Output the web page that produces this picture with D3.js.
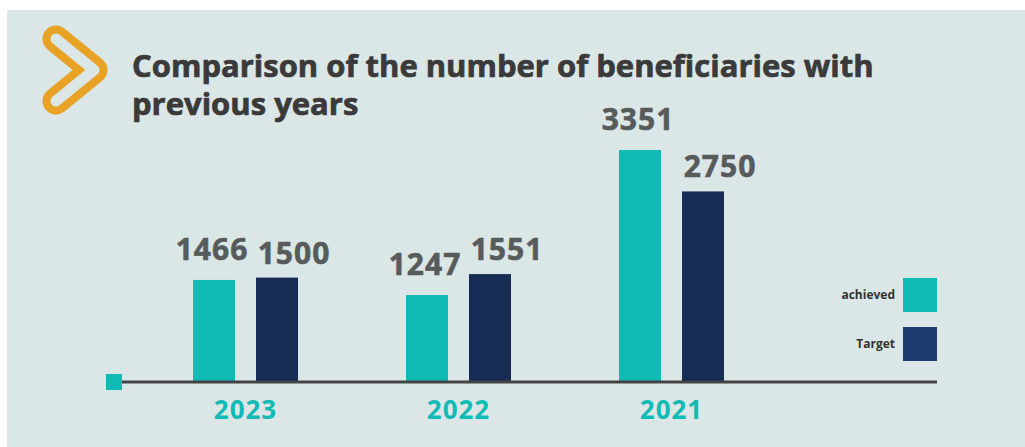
<!DOCTYPE html>
<html>
<head>
<meta charset="utf-8">
<script src="https://cdn.jsdelivr.net/npm/d3@7"></script>
<style>
  html, body { margin: 0; padding: 0; background: #fff; }
  svg { display: block; font-family: "Open Sans", "DejaVu Sans", sans-serif; }
</style>
</head>
<body>
<div id="chart"></div>
<script>
// data
const years = ["2023", "2022", "2021"];
const seriesNames = ["achieved", "Target"];
const achieved = [1466, 1247, 3351];
const target = [1500, 1551, 2750];
const titleLines = ["Comparison of the number of beneficiaries with", "previous years"];

const width = 1025, height = 447;
const baseline = 381;

const colors = { achieved: "#10bbb5", Target: "#172c55" };
const legendColors = { achieved: "#10bbb5", Target: "#1e3a6e" };

const svg = d3.select("#chart").append("svg")
  .attr("width", width)
  .attr("height", height);

// panel
svg.append("rect")
  .attr("x", 7).attr("y", 10)
  .attr("width", width - 7).attr("height", height - 10)
  .attr("fill", "#dbe6e6");

// chevron icon: thick rounded stroke, hollowed with the panel colour
const chev = "M56,39 L94,70 L56,101";
svg.append("path").attr("d", chev)
  .attr("fill", "none").attr("stroke", "#e8a326")
  .attr("stroke-width", 27).attr("stroke-linecap", "round").attr("stroke-linejoin", "round");
svg.append("path").attr("d", chev)
  .attr("fill", "none").attr("stroke", "#dbe6e6")
  .attr("stroke-width", 11).attr("stroke-linecap", "round").attr("stroke-linejoin", "round");

// title (a thin stroke to get closer to the heavy original face)
svg.append("g").selectAll("text")
  .data(titleLines)
  .enter().append("text")
  .attr("x", 132)
  .attr("y", (d, i) => 77 + i * 38)
  .attr("fill", "#3a3a3a")
  .attr("stroke", "#3a3a3a")
  .attr("stroke-width", 0.7)
  .attr("font-size", 31)
  .attr("font-weight", 700)
  .text(d => d);

// scales
const x = d3.scaleBand().domain(years).range([139, 778]);
const xs = d3.scaleBand().domain(seriesNames).range([0, 105]).paddingInner(1 / 3);
const y = d3.scaleLinear().domain([0, d3.max(achieved.concat(target))]).range([baseline, 150]);

const rows = years.map((yr, i) => ({ year: yr, values: [
  { key: "achieved", value: achieved[i] },
  { key: "Target", value: target[i] }
]}));

const labelDx = { achieved: -2, Target: 17 };
const labelGap = { achieved: 20, Target: 14 };

const group = svg.selectAll(".year")
  .data(rows)
  .enter().append("g")
  .attr("class", "year")
  .attr("transform", d => "translate(" + (x(d.year) + x.bandwidth() / 2 - 52.5) + ",0)");

group.selectAll("rect")
  .data(d => d.values)
  .enter().append("rect")
  .attr("x", d => xs(d.key))
  .attr("y", d => y(d.value))
  .attr("width", xs.bandwidth())
  .attr("height", d => baseline - y(d.value))
  .attr("fill", d => colors[d.key]);

group.selectAll(".val")
  .data(d => d.values)
  .enter().append("text")
  .attr("class", "val")
  .attr("x", d => xs(d.key) + xs.bandwidth() / 2 + labelDx[d.key])
  .attr("y", d => y(d.value) - labelGap[d.key])
  .attr("text-anchor", "middle")
  .attr("fill", "#575b5c")
  .attr("stroke", "#575b5c")
  .attr("stroke-width", 0.6)
  .attr("font-size", 30)
  .attr("font-weight", 700)
  .attr("letter-spacing", 1)
  .text(d => d.value);

// axis line and marker
svg.append("line")
  .attr("x1", 120).attr("x2", 937)
  .attr("y1", baseline + 1).attr("y2", baseline + 1)
  .attr("stroke", "#444").attr("stroke-width", 3);
svg.append("rect")
  .attr("x", 106).attr("y", 374).attr("width", 16).attr("height", 16)
  .attr("fill", "#10bbb5");

// year labels
svg.append("g").selectAll("text")
  .data(years)
  .enter().append("text")
  .attr("x", d => x(d) + x.bandwidth() / 2)
  .attr("y", 419)
  .attr("text-anchor", "middle")
  .attr("fill", "#10bbb5")
  .attr("font-size", 26)
  .attr("font-weight", 700)
  .attr("letter-spacing", 1)
  .text(d => d);

// legend
const legend = svg.append("g").selectAll("g")
  .data(seriesNames)
  .enter().append("g")
  .attr("transform", (d, i) => "translate(903," + (278 + i * 49) + ")");

legend.append("rect")
  .attr("width", 34).attr("height", 34)
  .attr("fill", d => legendColors[d]);

legend.append("text")
  .attr("x", -8).attr("y", 21)
  .attr("text-anchor", "end")
  .attr("fill", "#333")
  .attr("font-size", 12)
  .attr("font-weight", 700)
  .text(d => d);
</script>
</body>
</html>
